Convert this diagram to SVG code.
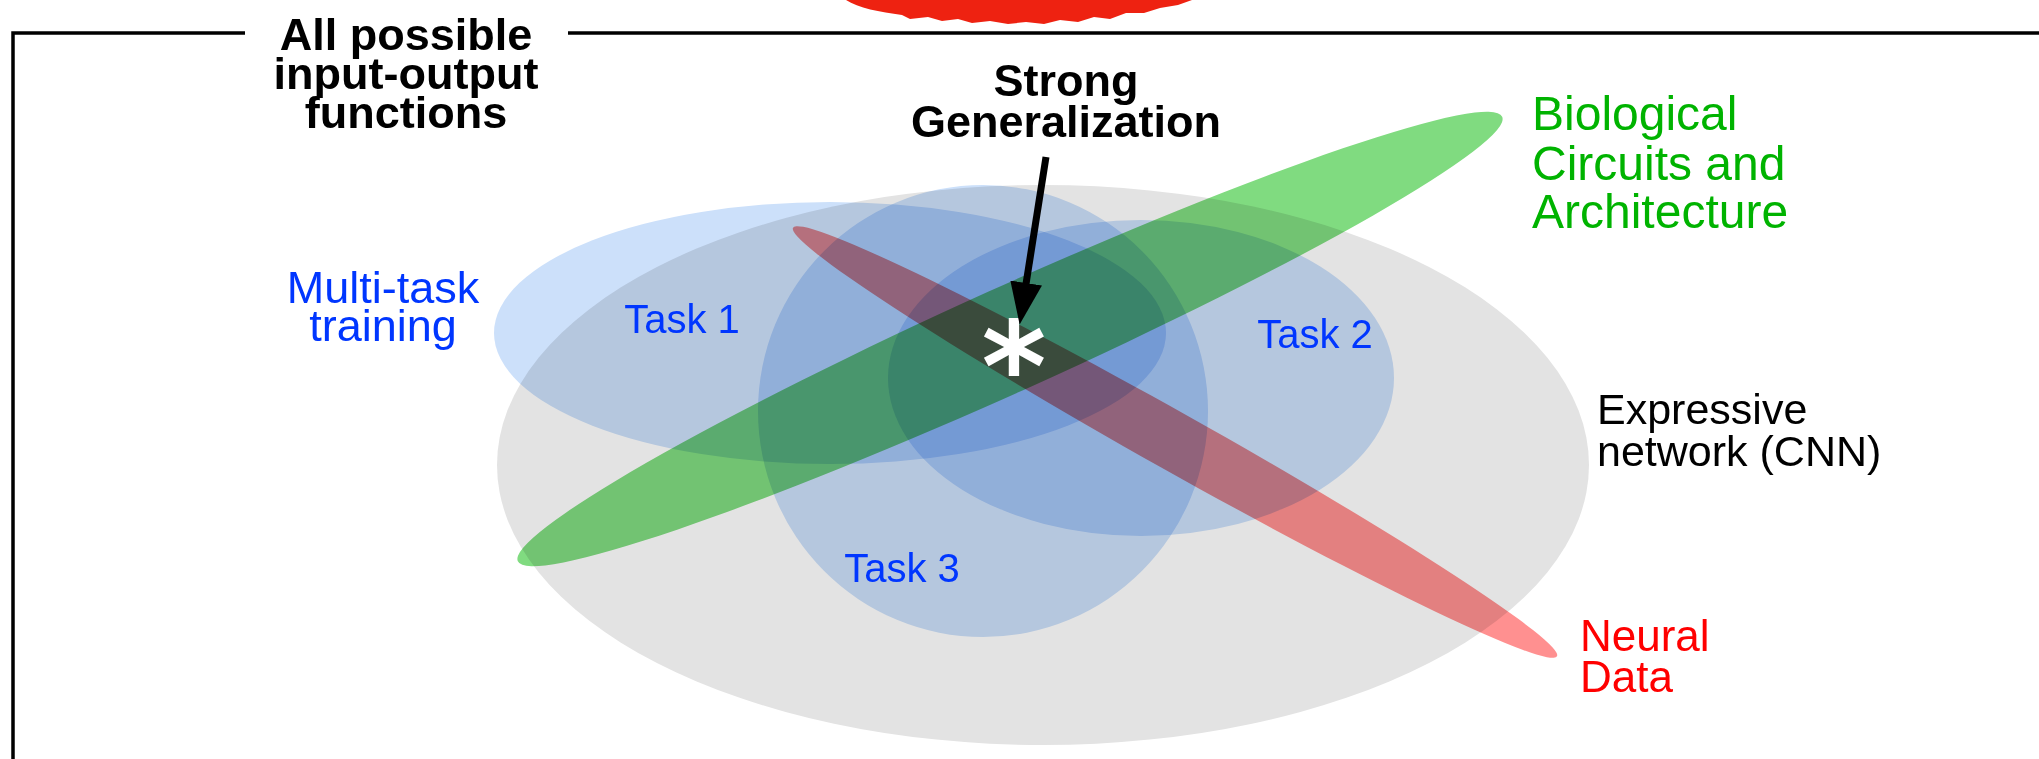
<svg xmlns="http://www.w3.org/2000/svg" width="2039" height="759" viewBox="0 0 2039 759">
<style>
.blend{mix-blend-mode:multiply}
.lbl{font-family:"Liberation Sans",Arial,sans-serif}
.bold{font-family:"Liberation Sans",Arial,sans-serif;font-weight:bold;fill:#000;text-anchor:middle}
.blue{fill:#0036ff}
.frame{stroke:#000;stroke-width:3.5;fill:none}
</style>
<defs>
<marker id="ah" markerUnits="userSpaceOnUse" markerWidth="42" markerHeight="32" viewBox="0 0 42 32" refX="1" refY="16" orient="auto">
<path d="M0,0 L42,16 L0,32 Z" fill="#000"/>
</marker>
</defs>
<rect x="0" y="0" width="2039" height="759" fill="#fff"/>
<path id="stamp" d="M846,0 C858,8 880,12 902,15 L910,19 L928,17 L942,21 L958,19 L972,23 L990,21 L1008,24 L1026,22 L1044,24 L1060,20 L1078,22 L1094,17 L1110,19 L1126,13 L1144,13 L1160,8 L1178,5 L1192,0 Z" fill="#ee2211"/>
<g id="frame">
<polyline class="frame" points="245,33 13,33 13,759"/>
<line class="frame" x1="568" y1="33" x2="2039" y2="33"/>
</g>
<g id="expressive-network">
<ellipse class="blend" cx="1043" cy="465" rx="546" ry="280" fill="#e3e3e3"/>
</g>
<g id="task1">
<ellipse class="blend" cx="830" cy="333" rx="336" ry="131" fill="#cce0fa"/>
</g>
<g id="task2">
<ellipse class="blend" cx="1141" cy="378" rx="253" ry="158" fill="#cce0fa"/>
</g>
<g id="task3">
<ellipse class="blend" cx="983" cy="411" rx="225" ry="226" fill="#cce0fa"/>
</g>
<g id="biological">
<ellipse class="blend" cx="1010" cy="339" rx="540" ry="52" transform="rotate(-24.3 1010 339)" fill="#80db80"/>
</g>
<g id="neural-data">
<ellipse class="blend" cx="1175" cy="442" rx="438" ry="29" transform="rotate(29.3 1175 442)" fill="#ff9090"/>
</g>
<g id="labels">
<text class="bold" font-size="45"><tspan x="406" y="50">All possible</tspan><tspan x="406" y="89">input-output</tspan><tspan x="406" y="128">functions</tspan></text>
<text class="bold" font-size="45"><tspan x="1066" y="96">Strong</tspan><tspan x="1066" y="137">Generalization</tspan></text>
<text class="lbl blue" font-size="45" text-anchor="middle"><tspan x="383" y="303">Multi-task</tspan><tspan x="383" y="341">training</tspan></text>
<text class="lbl blue" font-size="40" text-anchor="middle" x="682" y="333">Task 1</text>
<text class="lbl blue" font-size="40" text-anchor="middle" x="1315" y="348">Task 2</text>
<text class="lbl blue" font-size="40" text-anchor="middle" x="902" y="582">Task 3</text>
<text class="lbl" font-size="43" fill="#000"><tspan x="1597" y="424">Expressive</tspan><tspan x="1597" y="466">network (CNN)</tspan></text>
<text class="lbl" font-size="48" fill="#00b300"><tspan x="1532" y="130">Biological</tspan><tspan x="1532" y="180">Circuits and</tspan><tspan x="1532" y="228">Architecture</tspan></text>
<text class="lbl" font-size="44" fill="#ff0000"><tspan x="1580" y="651">Neural</tspan><tspan x="1580" y="692">Data</tspan></text>
<text font-family="DejaVu Sans,sans-serif" font-weight="bold" font-size="124" fill="#fff" text-anchor="middle" x="1014" y="411">*</text>
</g>
<g id="connectors">
<line x1="1046" y1="157" x2="1026" y2="284" stroke="#000" stroke-width="7" marker-end="url(#ah)"/>
</g>
</svg>
